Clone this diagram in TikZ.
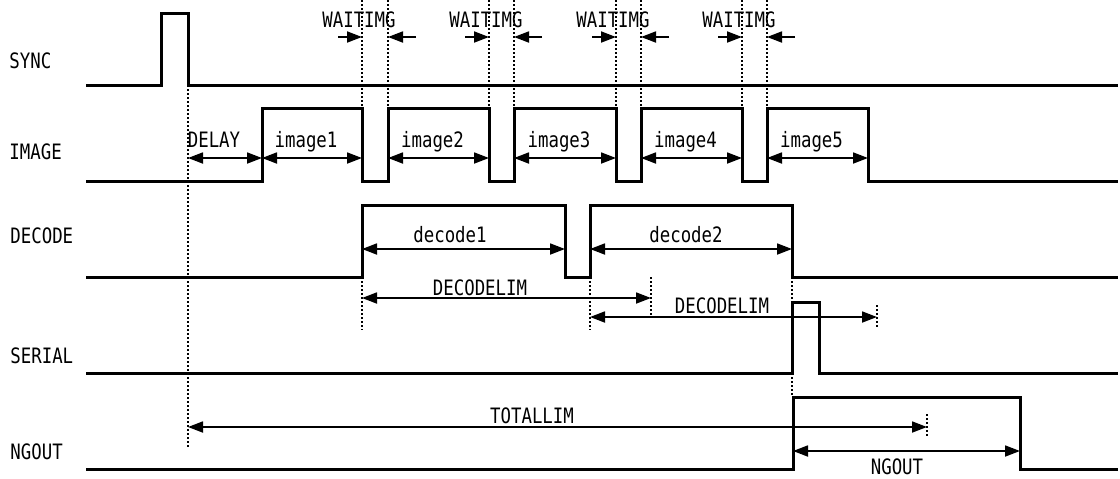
\documentclass[tikz,border=0pt]{standalone}
\usepackage{fontspec}
\newfontfamily\sigfont[FakeStretch=0.82]{DejaVu Sans Mono}
\usetikzlibrary{arrows.meta}

\begin{document}
\begin{tikzpicture}[
  x=0.5pt, y=-0.5pt,
  wave/.style={line width=1.5pt, line join=miter},
  dim/.style={{Triangle[length=7.5pt,width=5.5pt]}-{Triangle[length=7.5pt,width=5.5pt]}, line width=0.9pt},
  tip/.style={-{Triangle[length=7.5pt,width=5.5pt]}, line width=0.9pt},
  guide/.style={line width=0.7pt, dash pattern=on 1pt off 1pt},
  txt/.style={font=\sigfont\fontsize{10.6}{12}\selectfont, anchor=base, inner sep=0pt},
  sig/.style={txt, anchor=base west}
]
\useasboundingbox (0,0) rectangle (1120,478);

% signal names
\node[sig] (sync) at (9,68) {SYNC};
\node[sig] (image) at (9,159) {IMAGE};
\node[sig] (decode) at (10,243) {DECODE};
\node[sig] (serial) at (10,363) {SERIAL};
\node[sig] (ngout) at (10,459) {NGOUT};

% waveforms
\draw[wave] (86,85) -| (161,13) -| (188,85) -- (1118,85);
\draw[wave] (86,181) -| (262,108) -| (362,181) -| (388,108) -| (489,181) -| (514,108)
  -| (616,181) -| (641,108) -| (742,181) -| (767,108) -| (868,181) -- (1118,181);
\draw[wave] (86,277) -| (362,205) -| (565,277) -| (590,205) -| (792,277) -- (1118,277);
\draw[wave] (86,373) -| (792,302) -| (819,373) -- (1118,373);
\draw[wave] (86,469) -| (793,397) -| (1020,469) -- (1118,469);

% waiting gaps
\foreach \a/\b [count=\i] in {362/388, 489/514, 616/641, 742/767} {
  \draw[guide] (\a,0) -- (\a,108);
  \draw[guide] (\b,0) -- (\b,108);
  \draw[tip] (\a-24,37) -- (\a,37);
  \draw[tip] (\b+28,37) -- (\b,37);
  \node[txt] (wait\i) at (\a-3,27) {WAITIMG};
}

% image timing
\draw[guide] (188,85) -- (188,448);
\draw[dim] (188,158) -- (262,158);
\node[txt] (delay) at (214,147) {DELAY};
\foreach \a/\b [count=\i] in {262/362, 388/489, 514/616, 641/742, 767/868} {
  \draw[dim] (\a,158) -- (\b,158);
  \node[txt] (img\i) at ({(\a+\b)/2-6},147) {image\i};
}

% decode timing
\draw[dim] (362,249) -- (565,249);
\node[txt] (dec1) at (450,242) {decode1};
\draw[dim] (590,249) -- (792,249);
\node[txt] (dec2) at (686,242) {decode2};

\draw[guide] (362,277) -- (362,330);
\draw[guide] (590,277) -- (590,330);
\draw[guide] (651,277) -- (651,316);
\draw[guide] (792,277) -- (792,397);
\draw[guide] (877,305) -- (877,327);
\draw[dim] (362,298) -- (651,298);
\node[txt] (lim1) at (480,295) {DECODELIM};
\draw[dim] (590,317) -- (877,317);
\node[txt] (lim2) at (722,313) {DECODELIM};

% total / ng output
\draw[guide] (927,414) -- (927,436);
\draw[dim] (188,427) -- (927,427);
\node[txt] (total) at (532,423) {TOTALLIM};
\draw[dim] (793,451) -- (1020,451);
\node[txt] (ng) at (897,474) {NGOUT};

\end{tikzpicture}
\end{document}
